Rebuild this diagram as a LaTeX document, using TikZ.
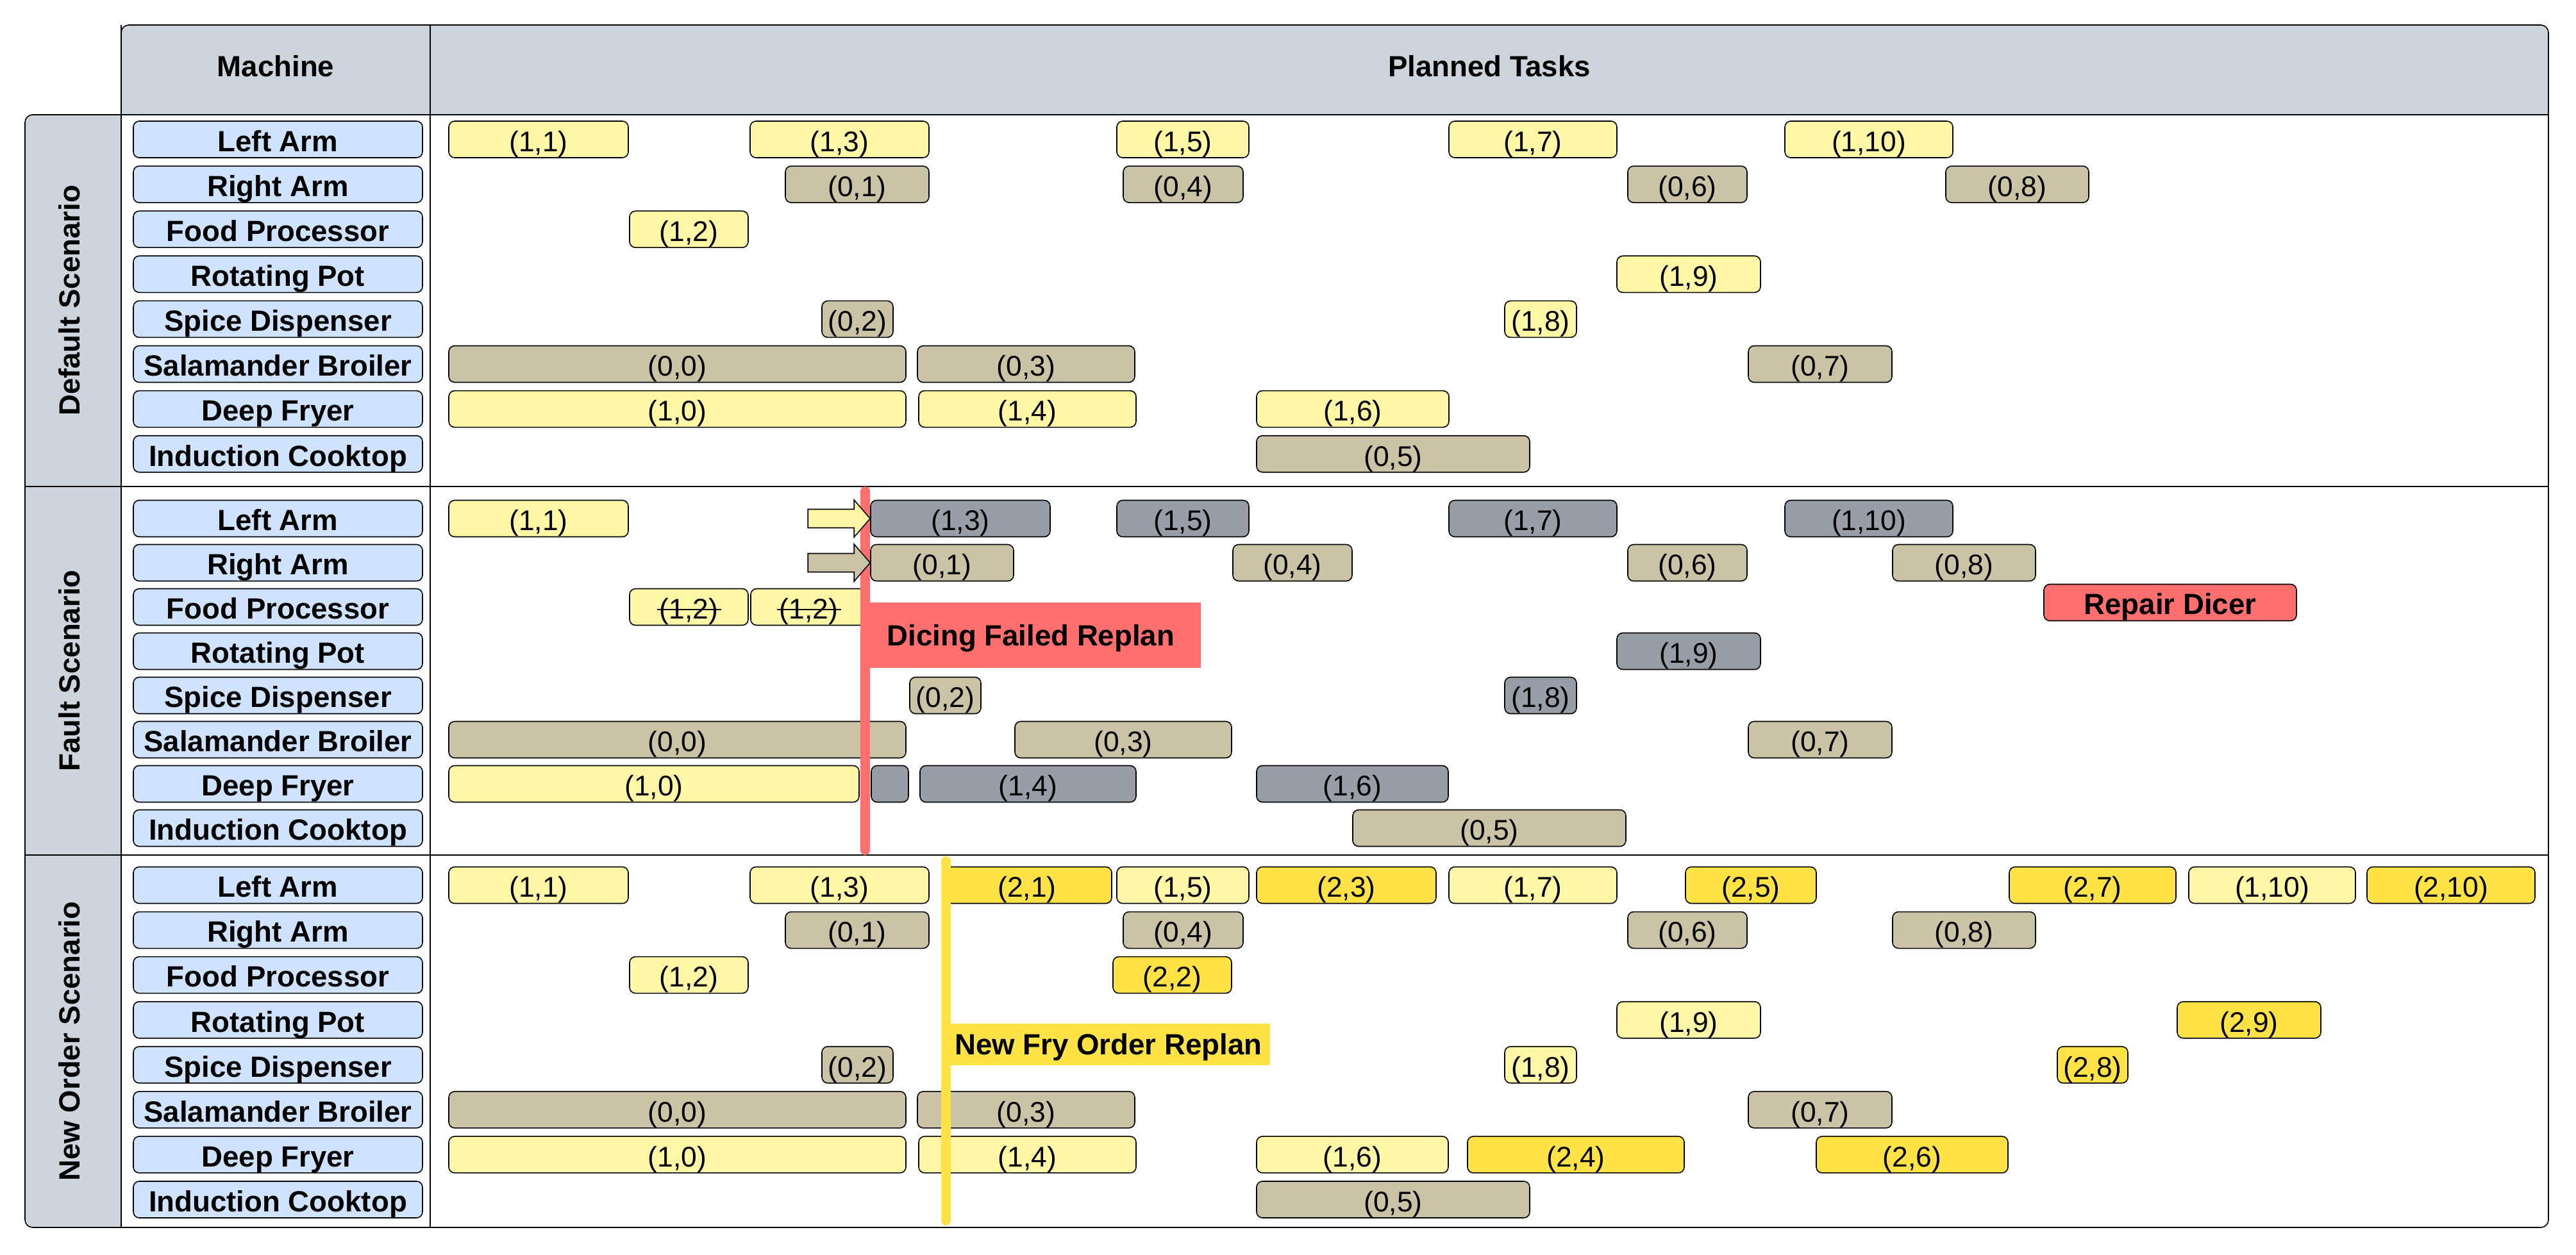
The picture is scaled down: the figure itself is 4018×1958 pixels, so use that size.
\documentclass[tikz,border=0pt]{standalone}
\usepackage{fontspec}
\setmainfont{Liberation Sans}
\definecolor{hdr}{HTML}{CDD4DC}
\definecolor{mblue}{HTML}{CFE3FF}
\definecolor{ltyel}{HTML}{FFF6A6}
\definecolor{ctan}{HTML}{CBC3A5}
\definecolor{cgrey}{HTML}{979EA8}
\definecolor{cgold}{HTML}{FFE246}
\definecolor{cred}{HTML}{FF6F6F}
\tikzset{
  box/.style={draw, line width=0.4pt, rounded corners=2.3pt, inner sep=0pt, minimum height=14.25pt, text height=9.4pt, text depth=0pt},
  btxt/.style={font=\fontsize{11.4}{13}\selectfont\bfseries},
  capc/.style={inner sep=0pt, text height=8.2pt, text depth=0pt},
  mach/.style={box, btxt, fill=mblue, minimum width=112.75pt},
  replan/.style={line width=3.75pt, line cap=round},
}
\begin{document}
\begin{tikzpicture}[x=0.25pt, y=-0.25pt, font=\fontsize{11.1}{13}\selectfont]
\useasboundingbox (0,0) rectangle (4018,1958);
% table frame
\begin{scope}
  \clip[rounded corners=3pt] (189,179) -- (189,39) -- (3975,39) -- (3975,1915) -- (39,1915) -- (39,179) -- (189,179);
  \fill[hdr] (189,39) rectangle (3975,179);
  \fill[hdr] (39,179) rectangle (189,1915);
\end{scope}
\draw[line width=0.4pt, rounded corners=3pt] (189,179) -- (189,39) -- (3975,39) -- (3975,1915) -- (39,1915) -- (39,179) -- (189,179);
\draw[line width=0.4pt] (189,179) -- (3975,179);
\foreach \y in {759,1334} \draw[line width=0.4pt] (39,\y) -- (3975,\y);
\foreach \x in {189,671} \draw[line width=0.4pt] (\x,39) -- (\x,1915);
\node[btxt, capc] (hm) at (430,103) {Machine};
\node[btxt, capc] (hp) at (2323,103) {Planned Tasks};
% scenarios and machines
\foreach \s/\yc/\t in {d/469/Default Scenario, f/1046.5/Fault Scenario, n/1624.5/New Order Scenario}
  \node[btxt, capc, rotate=90] (\s lab) at (108,\yc) {\t};
\foreach \s/\yo/\dy in {d/217.5/70.1, f/809/69, n/1381/70.07}{
  \foreach \m [count=\r from 0] in {Left Arm, Right Arm, Food Processor, Rotating Pot, Spice Dispenser, Salamander Broiler, Deep Fryer, Induction Cooktop}
    \node[mach] (\s m\r) at (433.5,{\yo+\r*\dy}) {\m};
}
% default scenario
\foreach \r/\i/\j/\a/\b/\c in {0/1/1/700/980/ltyel, 0/1/3/1170/1449/ltyel, 0/1/5/1742/1948/ltyel, 0/1/7/2260/2522/ltyel, 0/1/10/2784/3046/ltyel,
    1/0/1/1225/1449/ctan, 1/0/4/1752/1939/ctan, 1/0/6/2539/2725/ctan, 1/0/8/3035/3258/ctan,
    2/1/2/982/1167/ltyel, 3/1/9/2522/2746/ltyel, 4/0/2/1282/1393/ctan, 4/1/8/2347/2459/ltyel,
    5/0/0/700/1413/ctan, 5/0/3/1431/1770/ctan, 5/0/7/2727/2951/ctan,
    6/1/0/700/1413/ltyel, 6/1/4/1433/1772/ltyel, 6/1/6/1960/2260/ltyel, 7/0/5/1960/2386/ctan}
  \node[box, fill=\c, minimum width={(\b-\a)*0.25pt}] (d\i\j) at ({(\a+\b)/2},{217.5+\r*70.1}) {(\i,\j)};
% fault scenario
\foreach \r/\i/\j/\a/\b/\c in {0/1/1/700/980/ltyel, 0/1/3/1358/1638/cgrey, 0/1/5/1742/1948/cgrey, 0/1/7/2260/2522/cgrey, 0/1/10/2784/3046/cgrey,
    1/0/1/1358/1581/ctan, 1/0/4/1923/2109/ctan, 1/0/6/2539/2725/ctan, 1/0/8/2952/3175/ctan,
    2/1/2/982/1167/ltyel, 3/1/9/2522/2746/cgrey, 4/0/2/1419/1530/ctan, 4/1/8/2347/2459/cgrey,
    5/0/0/700/1413/ctan, 5/0/3/1583/1921/ctan, 5/0/7/2727/2951/ctan,
    6/1/0/700/1340/ltyel, 6/1/4/1435/1772/cgrey, 6/1/6/1960/2259/cgrey, 7/0/5/2110/2536/ctan}
  \node[box, fill=\c, minimum width={(\b-\a)*0.25pt}] (f\i\j) at ({(\a+\b)/2},{809+\r*69}) {(\i,\j)};
\node[box, fill=ltyel, minimum width=45.25pt] (f12b) at (1261.5,947) {(1,2)};
\node[box, fill=cgrey, minimum width=14.5pt] (f1x) at (1388,1223) {};
\foreach \t in {f12, f12b} \draw[line width=0.6pt] ([shift={(-50,4)}]\t.center) -- ([shift={(50,4)}]\t.center);
\node[box, btxt, fill=cred, minimum width=98.5pt] (fix) at (3385,940) {Repair Dicer};
% new order scenario
\foreach \r/\i/\j/\a/\b/\c in {0/1/1/700/980/ltyel, 0/1/3/1170/1449/ltyel, 0/2/1/1470/1734/cgold, 0/1/5/1742/1948/ltyel, 0/2/3/1960/2240/cgold,
    0/1/7/2260/2522/ltyel, 0/2/5/2629/2833/cgold, 0/2/7/3134/3394/cgold, 0/1/10/3414/3674/ltyel, 0/2/10/3692/3954/cgold,
    1/0/1/1225/1449/ctan, 1/0/4/1752/1939/ctan, 1/0/6/2539/2725/ctan, 1/0/8/2952/3175/ctan,
    2/1/2/982/1167/ltyel, 2/2/2/1736/1921/cgold, 3/1/9/2522/2746/ltyel, 3/2/9/3396/3620/cgold,
    4/0/2/1282/1393/ctan, 4/1/8/2347/2459/ltyel, 4/2/8/3209/3319/cgold,
    5/0/0/700/1413/ctan, 5/0/3/1431/1770/ctan, 5/0/7/2727/2951/ctan,
    6/1/0/700/1413/ltyel, 6/1/4/1433/1772/ltyel, 6/1/6/1960/2259/ltyel, 6/2/4/2289/2627/cgold, 6/2/6/2833/3132/cgold,
    7/0/5/1960/2386/ctan}
  \node[box, fill=\c, minimum width={(\b-\a)*0.25pt}] (n\i\j) at ({(\a+\b)/2},{1381+\r*70.07}) {(\i,\j)};
% replan markers
\node[btxt, capc, fill=cred, minimum width=132.5pt, minimum height=25.5pt, anchor=west] (fail) at (1342,991) {Dicing Failed Replan};
\node[btxt, capc, fill=cgold, minimum width=126pt, minimum height=16.25pt, anchor=west] (fry) at (1476,1629.5) {New Fry Order Replan};
\coordinate (fa) at (1349.5,766.5); \coordinate (fb) at (1349.5,1326.5);
\coordinate (na) at (1475.5,1343.5); \coordinate (nb) at (1475.5,1904.5);
\draw[replan, cred] (fa) -- (fb);
\draw[replan, cgold] (na) -- (nb);
\foreach \t/\c in {f13/ltyel, f01/ctan}
  \draw[line width=0.4pt, fill=\c] (\t.west) -- ++(-25,-29) -- ++(0,14.5) -- ++(-72,0) -- ++(0,29) -- ++(72,0) -- ++(0,14.5) -- cycle;
\end{tikzpicture}
\end{document}
